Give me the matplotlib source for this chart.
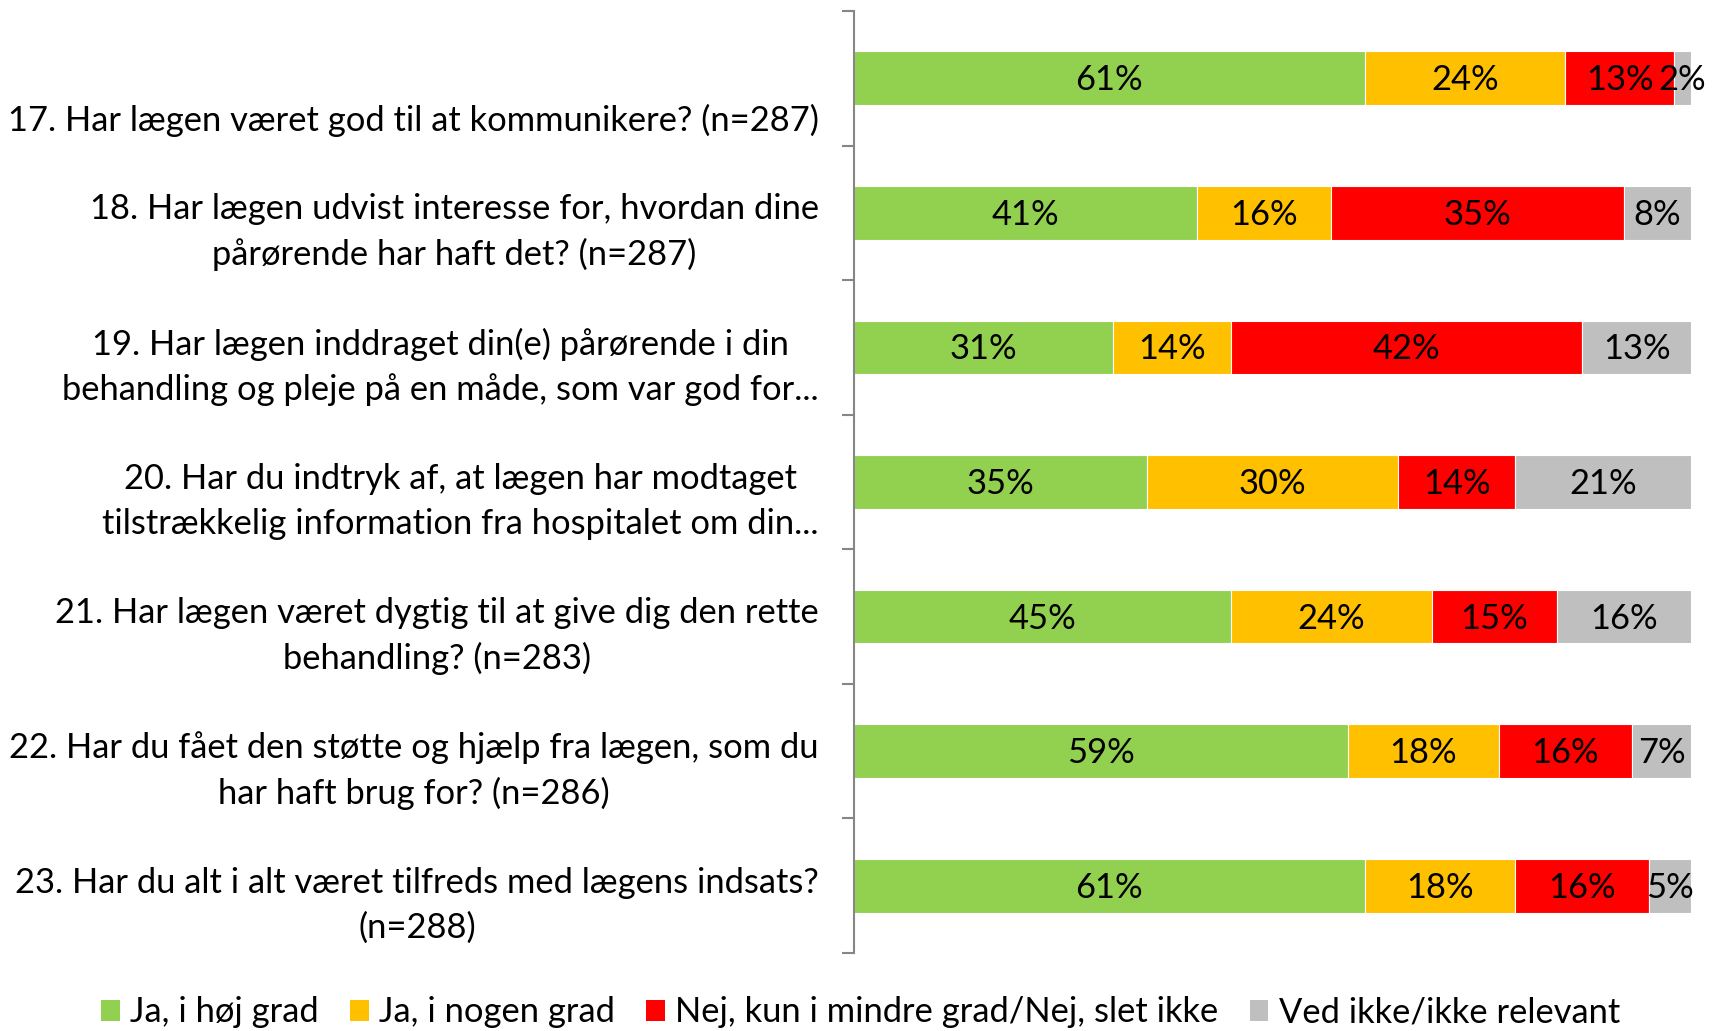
import matplotlib
matplotlib.use("Agg")
import matplotlib.pyplot as plt
from matplotlib.patches import Patch
import numpy as np

plt.rcParams['font.family'] = ['Lato', 'DejaVu Sans']

questions = [
    "17. Har lægen været god til at kommunikere? (n=287)",
    "18. Har lægen udvist interesse for, hvordan dine\npårørende har haft det? (n=287)",
    "19. Har lægen inddraget din(e) pårørende i din\nbehandling og pleje på en måde, som var god for...",
    "20. Har du indtryk af, at lægen har modtaget\ntilstrækkelig information fra hospitalet om din...",
    "21. Har lægen været dygtig til at give dig den rette\nbehandling? (n=283)",
    "22. Har du fået den støtte og hjælp fra lægen, som du\nhar haft brug for? (n=286)",
    "23. Har du alt i alt været tilfreds med lægens indsats?\n(n=288)",
]
series = ["Ja, i høj grad", "Ja, i nogen grad",
          "Nej, kun i mindre grad/Nej, slet ikke", "Ved ikke/ikke relevant"]
hoj = [61, 41, 31, 35, 45, 59, 61]
nogen = [24, 16, 14, 30, 24, 18, 18]
nej = [13, 35, 42, 14, 15, 16, 16]
vedikke = [2, 8, 13, 21, 16, 7, 5]
colors = ["#92D050", "#FFC000", "#FF0000", "#BFBFBF"]

fig = plt.figure(figsize=(17.21, 10.31), dpi=100)
ax = fig.add_axes([0.4962, 0.0757, 0.4864, 0.9136])

y = np.arange(len(questions))
left = np.zeros(len(questions))
fs = 24.8
for vals, col in zip([hoj, nogen, nej, vedikke], colors):
    vals = np.array(vals, dtype=float)
    ax.barh(y, vals, left=left, height=0.4, color=col, edgecolor='white', linewidth=0.8)
    for yi, (l, v) in enumerate(zip(left, vals)):
        ax.text(l + v / 2, yi + 0.015, f"{int(v)}%", ha='center', va='center',
                fontsize=fs, color='black')
    left += vals

ax.set_xlim(0, 100)
ax.set_ylim(len(questions) - 0.5, -0.5)
ax.set_xticks([])
ax.set_yticks(np.arange(-0.5, len(questions), 1))
ax.set_yticklabels([])
ax.tick_params(axis='y', direction='out', length=9, width=1.5, color='#868686')
for s in ['top', 'right', 'bottom']:
    ax.spines[s].set_visible(False)
ax.spines['left'].set_color('#868686')
ax.spines['left'].set_linewidth(1.5)

# question labels, slightly below bar centre like the Excel original
for yi, q in enumerate(questions):
    n = q.count("\n") + 1
    ax.text(-0.042, yi + 0.315 - (n - 1) * 0.17, q, transform=ax.get_yaxis_transform(),
            ha='right', va='center', multialignment='center', fontsize=fs,
            linespacing=1.47)

handles = [Patch(facecolor=c, edgecolor='none') for c in colors]
fig.legend(handles, series, loc='center', bbox_to_anchor=(0.5, 0.018), ncol=4,
           frameon=False, fontsize=fs, handlelength=0.55, handleheight=0.55,
           handletextpad=0.3, columnspacing=0.9)

fig.savefig("out.png", dpi=100)
